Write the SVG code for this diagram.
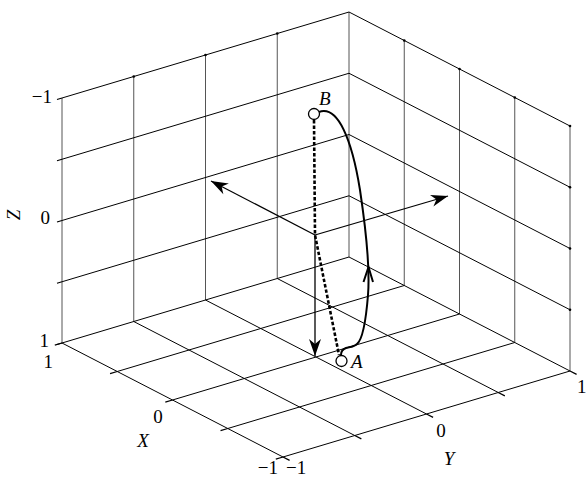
<svg xmlns="http://www.w3.org/2000/svg" width="587" height="479" viewBox="0 0 587 479">
<defs>
<style>
.g{stroke:#000;stroke-width:1;fill:none}
.v{stroke:#555;stroke-width:1;fill:none}
.tk{stroke:#000;stroke-width:1.3;fill:none}
.dot{fill:#000}
.t{font-family:"Liberation Serif","Times New Roman",serif;font-size:19px;fill:#000}
.it{font-style:italic}
.ax{stroke:#000;stroke-width:1.3;fill:none}
.cur{stroke:#000;stroke-width:2;fill:none}
.dash{stroke:#000;stroke-width:2.6;fill:none;stroke-dasharray:3.5 2}
.node{fill:#fff;stroke:#000;stroke-width:1.3}
</style>
<marker id="ah" viewBox="-18 -7 20 14" refX="0" refY="0" markerWidth="20" markerHeight="14" markerUnits="userSpaceOnUse" orient="auto">
<path d="M0,0 L-17,-6 L-12,0 L-17,6 Z" fill="#000"/>
</marker>
</defs>
<rect width="587" height="479" fill="#fff"/>
<g id="grid">
<g id="left-wall">
<path class="v" d="M62,98V343M133.75,76.5V321.5M205.5,55V300M277.25,33.5V278.5M349,12V257"/>
<path class="g" d="M62,98L349,12M62,159.25L349,73.25M62,220.5L349,134.5M62,281.75L349,195.75M62,343L349,257"/>
</g>
<g id="right-wall">
<path class="v" d="M404.25,40.5V285.5M459.5,69V314M514.75,97.5V342.5M570,126V371"/>
<path class="g" d="M349,12L570,126M349,73.25L570,187.25M349,134.5L570,248.5M349,195.75L570,309.75M349,257L570,371"/>
</g>
<g id="floor">
<path class="g" d="M117.25,371.5L404.25,285.5M172.5,400L459.5,314M227.75,428.5L514.75,342.5M283,457L570,371"/>
<path class="g" d="M62,343L283,457M133.75,321.5L354.75,435.5M205.5,300L426.5,414M277.25,278.5L498.25,392.5"/>
</g>
<g id="ticks">
<path class="tk" d="M62,98l-5,1.5M62,159.25l-5,1.5M62,220.5l-5,1.5M62,281.75l-5,1.5M62,343l-5,1.5"/>
<path class="tk" d="M62,343l-7.2,2.2M117.25,371.5l-7.2,2.2M172.5,400l-7.2,2.2M227.75,428.5l-7.2,2.2M283,457l-7.2,2.2"/>
<path class="tk" d="M283,457l6.6,3.4M354.75,435.5l6.6,3.4M426.5,414l6.6,3.4M498.25,392.5l6.6,3.4M570,371l6.6,3.4"/>
<g class="dot">
<circle cx="133.75" cy="76.5" r="1.3"/><circle cx="205.5" cy="55" r="1.3"/><circle cx="277.25" cy="33.5" r="1.3"/>
<circle cx="404.25" cy="40.5" r="1.3"/><circle cx="459.5" cy="69" r="1.3"/><circle cx="514.75" cy="97.5" r="1.3"/>
<circle cx="570" cy="126" r="1.3"/><circle cx="570" cy="187.25" r="1.3"/><circle cx="570" cy="248.5" r="1.3"/><circle cx="570" cy="309.75" r="1.3"/>
</g>
</g>
<g id="labels">
<text class="t" x="52" y="103" text-anchor="end">−1</text>
<text class="t" x="50" y="224" text-anchor="end">0</text>
<text class="t" x="49" y="347" text-anchor="end">1</text>
<text class="t it" x="0" y="0" transform="translate(20,215) rotate(-90)" text-anchor="middle">Z</text>
<text class="t" x="53" y="368" text-anchor="end">1</text>
<text class="t" x="158" y="423" text-anchor="middle">0</text>
<text class="t it" x="143" y="447" text-anchor="middle">X</text>
<text class="t" x="278" y="474" text-anchor="end">−1</text>
<text class="t" x="286" y="474">−1</text>
<text class="t" x="441" y="437" text-anchor="middle">0</text>
<text class="t it" x="449" y="465" text-anchor="middle">Y</text>
<text class="t" x="577" y="393">1</text>
</g>
</g>
<g id="connectors">
<path class="ax" d="M315,235L211,181" marker-end="url(#ah)"/>
<path class="ax" d="M315,235L448,196" marker-end="url(#ah)"/>
<path class="ax" d="M315,235L315,356" marker-end="url(#ah)"/>
<path class="dash" d="M314,120L315,235L339,355"/>
<path class="cur" d="M319,112C338,105 352,140 360,190C366,230 370,270 368,295C366,320 362,340 357,344C354,347 349,347 346,348C343,349 341,351 341,355"/>
<path class="cur" d="M363.5,282L368.5,267L373,282"/>
</g>
<g id="B">
<circle class="node" cx="314" cy="114" r="5.5"/>
<text class="t it" x="319" y="105">B</text>
</g>
<g id="A">
<circle class="node" cx="341.5" cy="361" r="5.5"/>
<text class="t it" x="351" y="368">A</text>
</g>
</svg>
